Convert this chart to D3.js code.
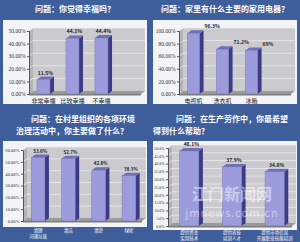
<!DOCTYPE html>
<html>
<head>
<meta charset="utf-8">
<script src="https://cdn.jsdelivr.net/npm/d3@7"></script>
<style>
  body { margin: 0; background: #3f5e9c; }
  svg { display: block; font-family: "Noto Sans CJK SC", sans-serif; }
</style>
</head>
<body>
<div id="vis"></div>
<script>
// data for the four small charts
var happyCats = ["非常幸福", "比较幸福", "不幸福"];
var happyVals = [11.5, 44.1, 44.4];
var happyTicks = [0, 10, 20, 30, 40, 50];

var applCats = ["电视机", "洗衣机", "冰箱"];
var applVals = [96.3, 71.2, 69];
var applLabels = ["96.3%", "71.2%", "69%"];
var applTicks = [0, 20, 40, 60, 80, 100];

var envCats = [["清理", "河涌垃圾"], ["清洁"], ["清淤"], ["绿化"]];
var envVals = [53.6, 52.7, 42.8, 38.3];
var envTicks = [0, 10, 20, 30, 40, 50, 60];

var helpCats = [["提供资金", "实用技术"], ["提供农技", "培训人才"], ["提供市场信息", "开展职业技能培训"]];
var helpVals = [48.1, 37.9, 34.8];
var helpTicks = [0, 5, 10, 15, 20, 25, 30, 35, 40, 45, 50];

var W = 300, H = 242;
var svg = d3.select("#vis").append("svg").attr("width", W).attr("height", H);

svg.append("rect").attr("width", W).attr("height", H).attr("fill", "#3f5e9c");

//white boxes of each panel
var boxes = [[3, 20, 144, 84], [153, 20, 144, 84], [3, 141, 144, 86], [153, 141, 144, 89]];
boxes.forEach(function(b){
  svg.append("rect").attr("x", b[0]).attr("y", b[1]).attr("width", b[2]).attr("height", b[3])
    .attr("fill", "#f4f4f6");
});

//titles
function title(lines){
  lines.forEach(function(l){
    svg.append("text").attr("x", l[0]).attr("y", l[1]).attr("text-anchor", l[2] || "middle")
      .attr("fill", "#fff").attr("font-size", 8).attr("font-weight", "bold").text(l[3]);
  });
}
title([[75, 12, "middle", "问题：你觉得幸福吗？"]]);
title([[225, 12, "middle", "问题：家里有什么主要的家用电器？"]]);
title([[31, 122, "start", "问题：在村里组织的各项环境"], [16, 134, "start", "治理活动中，你主要做了什么？"]]);
title([[176, 122, "start", "问题：在生产劳作中，你最希望"], [153, 134, "start", "得到什么帮助？"]]);

var dx = 4, dy = 3;

function panel(o){
  var g = svg.append("g");
  var y = d3.scaleLinear().domain([0, o.max]).range([o.y0, o.y1]);
  var x = d3.scaleBand().domain(d3.range(o.vals.length)).range([o.x0, o.xb]).paddingInner(o.pad).paddingOuter(o.pad / 2);

  //floor
  g.append("path")
    .attr("d", "M" + o.x0 + "," + o.y0 + "L" + (o.x0 + dx) + "," + (o.y0 - dy) + "L" + o.x1 + "," + (o.y0 - dy) +
      "L" + (o.x1 - dx) + "," + o.y0 + "Z")
    .attr("fill", "#9a9a9a");
  g.append("rect").attr("x", o.x0).attr("y", o.y0).attr("width", o.x1 - dx - o.x0).attr("height", 1.5)
    .attr("fill", "#7c7c7c");
  //back wall
  g.append("rect").attr("x", o.x0 + dx).attr("y", o.y1 - dy).attr("width", o.x1 - o.x0 - dx)
    .attr("height", o.y0 - o.y1).attr("fill", "#cbcbcf");
  //left wall
  g.append("path")
    .attr("d", "M" + o.x0 + "," + o.y0 + "L" + o.x0 + "," + o.y1 + "L" + (o.x0 + dx) + "," + (o.y1 - dy) +
      "L" + (o.x0 + dx) + "," + (o.y0 - dy) + "Z")
    .attr("fill", "#b4b4b8");
  o.ticks.forEach(function(t){
    if (t === 0) return;
    g.append("path")
      .attr("d", "M" + o.x0 + "," + y(t) + "L" + (o.x0 + dx) + "," + (y(t) - dy) + "L" + o.x1 + "," + (y(t) - dy))
      .attr("fill", "none").attr("stroke", "#ececee").attr("stroke-width", 0.8);
  });

  //y axis
  var ax = g.append("g").attr("transform", "translate(" + o.x0 + ",0)")
    .call(d3.axisLeft(y).tickValues(o.ticks).tickSize(2).tickPadding(1.5).tickFormat(o.fmt));
  ax.select(".domain").attr("stroke", "#555");
  ax.selectAll("line").attr("stroke", "#555");
  ax.selectAll("text").attr("font-size", o.fs).attr("fill", "#333").attr("font-family", "Liberation Serif, serif");

  //bars
  o.vals.forEach(function(v, i){
    var bx = x(i), bw = x.bandwidth(), top = y(v);
    g.append("path")
      .attr("d", "M" + (bx + bw) + "," + o.y0 + "L" + (bx + bw + dx) + "," + (o.y0 - dy) + "L" + (bx + bw + dx) + "," + (top - dy) +
        "L" + (bx + bw) + "," + top + "Z")
      .attr("fill", "#3b3b86");
    g.append("path")
      .attr("d", "M" + bx + "," + top + "L" + (bx + dx) + "," + (top - dy) + "L" + (bx + bw + dx) + "," + (top - dy) +
        "L" + (bx + bw) + "," + top + "Z")
      .attr("fill", "#6f6fba");
    g.append("rect").attr("x", bx).attr("y", top).attr("width", bw).attr("height", o.y0 - top)
      .attr("fill", "#9c9cdc").attr("stroke", "#6a6aaa").attr("stroke-width", 0.4);
    var lx = o.labRight ? bx + bw + dx + 1 : bx + bw / 2 + dx / 2;
    g.append("text").attr("x", lx).attr("y", top - dy - 2)
      .attr("text-anchor", o.labRight ? "start" : "middle")
      .attr("font-size", o.vfs).attr("font-weight", "bold").attr("fill", "#222")
      .text(o.labels ? o.labels[i] : v.toFixed(1) + "%");
  });

  //category labels
  o.cats.forEach(function(c, i){
    var lines = Array.isArray(c) ? c : [c];
    lines.forEach(function(l, k){
      g.append("text").attr("x", x(i) + x.bandwidth() / 2).attr("y", o.cy + k * (o.cfs + 1))
        .attr("text-anchor", "middle").attr("font-size", o.cfs).attr("fill", o.cfill).text(l);
    });
  });
}

panel({vals: happyVals, cats: happyCats, ticks: happyTicks, max: 50, x0: 29, x1: 145, xb: 116, y0: 94, y1: 31,
  pad: 0.55, fs: 5.5, vfs: 5, cfs: 6, cy: 102.5, cfill: "#222", fmt: function(d){ return d.toFixed(2) + "%"; }});
panel({vals: applVals, cats: applCats, labels: applLabels, ticks: applTicks, max: 100, x0: 179, x1: 295, xb: 266,
  y0: 94, y1: 31, pad: 0.58, fs: 5.5, vfs: 5, cfs: 6, cy: 102.5, cfill: "#222", labRight: true,
  fmt: function(d){ return d.toFixed(2) + "%"; }});
panel({vals: envVals, cats: envCats, ticks: envTicks, max: 60, x0: 23, x1: 146, xb: 144, y0: 221, y1: 150,
  pad: 0.55, fs: 4.6, vfs: 4.5, cfs: 4.5, cy: 232, cfill: "#fff", fmt: function(d){ return d.toFixed(2) + "%"; }});
panel({vals: helpVals, cats: helpCats, ticks: helpTicks, max: 50, x0: 168, x1: 296, xb: 296, y0: 226, y1: 148,
  pad: 0.55, fs: 4, vfs: 5, cfs: 4.5, cy: 234, cfill: "#fff", fmt: function(d){ return d.toFixed(1) + "%"; }});

//watermark
svg.append("text").attr("x", 232).attr("y", 200).attr("text-anchor", "middle").attr("font-size", 16)
  .attr("font-weight", "bold").attr("fill", "#fff").attr("fill-opacity", 0.5).text("江门新闻网");
svg.append("text").attr("x", 232).attr("y", 217).attr("text-anchor", "middle").attr("font-size", 11)
  .attr("fill", "#fff").attr("fill-opacity", 0.5).attr("letter-spacing", 1).text("jmnews.com.cn");
</script>
</body>
</html>
